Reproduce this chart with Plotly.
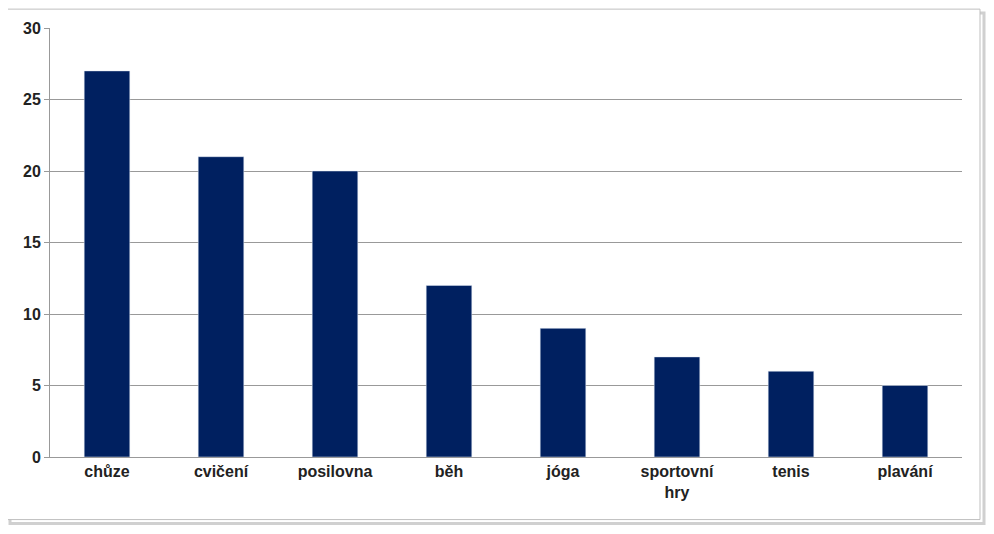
import plotly.graph_objects as go

categories = ["chůze", "cvičení", "posilovna", "běh", "jóga", "sportovní<br>hry", "tenis", "plavání"]
values = [27, 21, 20, 12, 9, 7, 6, 5]

fig = go.Figure(go.Bar(x=categories, y=values, marker_color="#002060", width=0.4))

# page is drawn with an 8px offset, so work in figure coords shifted by 8
OFF = 8
W, H = 994 - OFF, 534 - OFF
l, r, t, b = 50 - OFF, 994 - 962, 25 - OFF, 534 - 457
pw, ph = W - l - r, H - t - b

def px(x):
    return (x - OFF - l) / pw

def py(y):
    return (H - b - (y - OFF)) / ph

# frame with a soft shadow
fig.add_shape(type="rect", xref="paper", yref="paper",
              x0=px(10), x1=px(984), y0=py(524), y1=py(10),
              line=dict(color="#d0d0d0", width=3), layer="below")
fig.add_shape(type="rect", xref="paper", yref="paper",
              x0=px(6), x1=px(980), y0=py(520), y1=py(6),
              line=dict(color="#bfbfbf", width=1), fillcolor="white", layer="below")

fig.update_layout(
    width=W, height=H, margin=dict(l=l, r=r, t=t, b=b),
    paper_bgcolor="white", plot_bgcolor="rgba(0,0,0,0)",
    font=dict(family="Liberation Sans, Arial", size=16, color="#222"),
    showlegend=False,
)
fig.update_yaxes(range=[0, 30], dtick=5, gridcolor="#999", gridwidth=1,
                 showline=True, linecolor="#999", ticks="outside", ticklen=5,
                 tickcolor="#999", tickfont=dict(size=16, weight="bold"), zeroline=False)
fig.update_xaxes(showline=True, linecolor="#999", tickfont=dict(size=16, weight="bold"),
                 ticks="outside", tickcolor="#999", ticklen=0)

fig.write_html("out.html")
